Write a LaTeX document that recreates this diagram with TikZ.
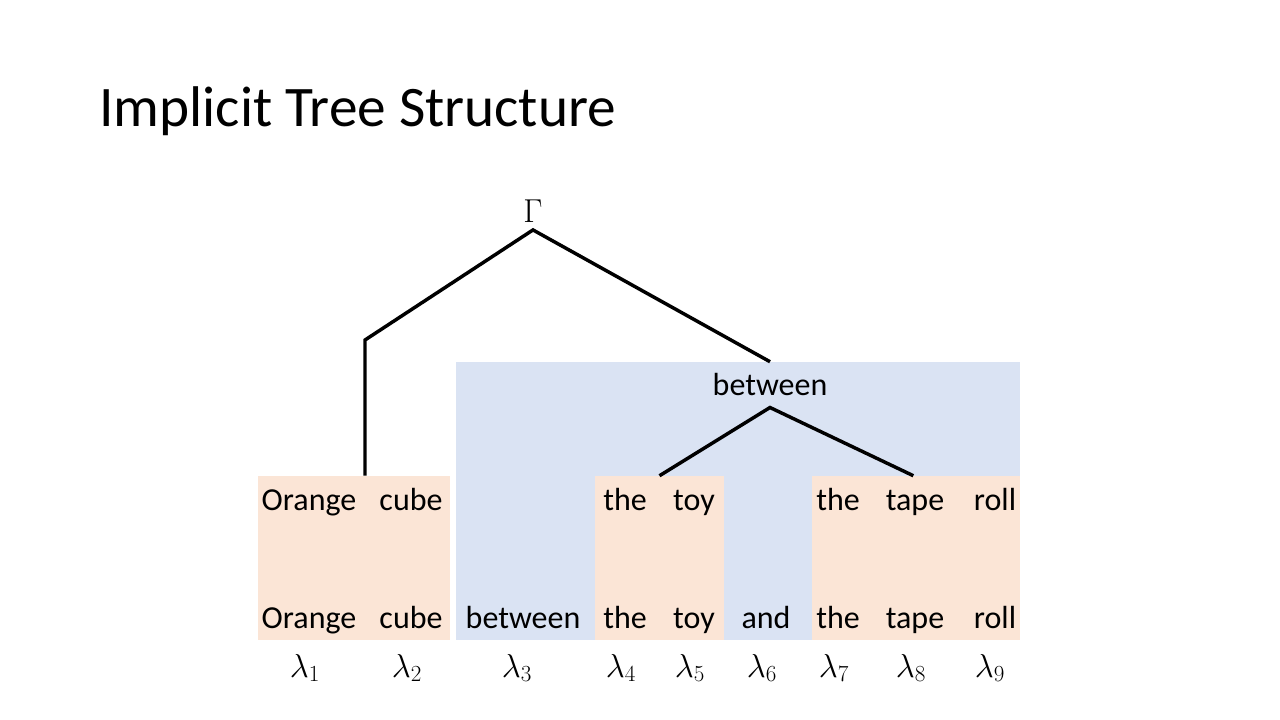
\documentclass[tikz,border=0pt]{standalone}
\usepackage{fontspec}
\setmainfont{Carlito}
\usetikzlibrary{fit}

\definecolor{spanorange}{HTML}{FBE5D6}
\definecolor{spanblue}{HTML}{DAE3F3}

\tikzset{
  span/.style={fill=#1, draw=none, inner sep=0pt},
  word/.style={anchor=base, inner sep=0pt, font=\fontsize{24}{28}\selectfont},
  lam/.style={anchor=base, inner sep=0pt, font=\fontsize{24}{28}\selectfont},
  branch/.style={line width=2.6pt, line join=miter}
}

\begin{document}
\begin{tikzpicture}[x=0.75pt,y=-0.75pt]
    \useasboundingbox (0,0) rectangle (1280,720);%

    \node[anchor=base west, inner sep=0pt, font=\fontsize{43}{50}\selectfont] (title) at (99,127) {Implicit Tree Structure};%

    % spans
    \node[span=spanblue, fit={(456,362) (1020,640)}] (blue) {};%
    \node[span=spanorange, fit={(258,476) (450,640)}] (box1) {};%
    \node[span=spanorange, fit={(595,476) (724,640)}] (box2) {};%
    \node[span=spanorange, fit={(812,476) (1020,640)}] (box3) {};%

    % top row
    \node[word] (t1) at (309,510) {Orange};%
    \node[word] (t2) at (411,510) {cube};%
    \node[word] (t4) at (625,510) {the};%
    \node[word] (t5) at (694,510) {toy};%
    \node[word] (t7) at (838,510) {the};%
    \node[word] (t8) at (915,510) {tape};%
    \node[word] (t9) at (995,510) {roll};%

    % bottom row
    \node[word] (w1) at (309,628) {Orange};%
    \node[word] (w2) at (411,628) {cube};%
    \node[word] (w3) at (523,628) {between};%
    \node[word] (w4) at (625,628) {the};%
    \node[word] (w5) at (694,628) {toy};%
    \node[word] (w6) at (766,628) {and};%
    \node[word] (w7) at (838,628) {the};%
    \node[word] (w8) at (915,628) {tape};%
    \node[word] (w9) at (995,628) {roll};%

    % lambdas
    \node[lam] (l1) at (305,677) {$\lambda_1$};%
    \node[lam] (l2) at (407,677) {$\lambda_2$};%
    \node[lam] (l3) at (517,677) {$\lambda_3$};%
    \node[lam] (l4) at (621,677) {$\lambda_4$};%
    \node[lam] (l5) at (690,677) {$\lambda_5$};%
    \node[lam] (l6) at (762,677) {$\lambda_6$};%
    \node[lam] (l7) at (834,677) {$\lambda_7$};%
    \node[lam] (l8) at (911,677) {$\lambda_8$};%
    \node[lam] (l9) at (990,677) {$\lambda_9$};%

    % tree
    \node[word] (root) at (533,223) {$\Gamma$};%
    \node[word] (mid) at (770,395) {between};%
    \coordinate (lbend) at (365,340);%

    \draw[branch] (lbend |- box1.north) -- (lbend) -- ([yshift=-5pt]root.south) -- (mid.north |- blue.north);%
    \draw[branch] (box2.north) -- ([yshift=-9pt]mid.south) -- ([xshift=-2pt]box3.north);%
\end{tikzpicture}
\end{document}
